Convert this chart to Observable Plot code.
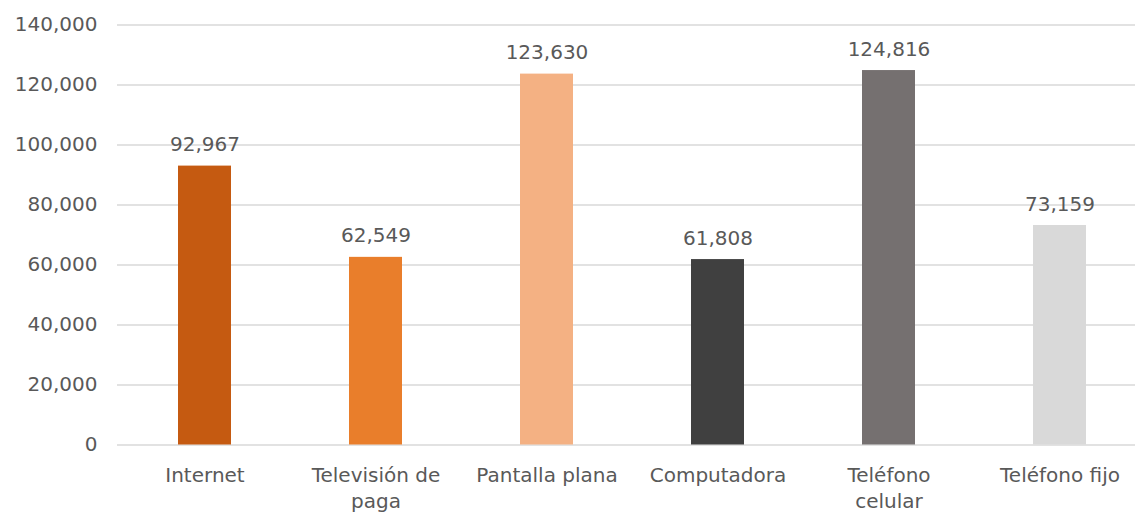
<!DOCTYPE html>
<html>
<head>
<meta charset="utf-8">
<script src="https://cdn.jsdelivr.net/npm/d3@7"></script>
<script src="https://cdn.jsdelivr.net/npm/@observablehq/plot@0.6"></script>
<style>
  html, body { margin: 0; padding: 0; background: #fff; }
  #chart svg { display: block; }
</style>
</head>
<body>
<div id="chart"></div>
<script>
const categories = ["Internet", "Televisión de paga", "Pantalla plana", "Computadora", "Teléfono celular", "Teléfono fijo"];
const tickLabels = ["Internet", "Televisión de\npaga", "Pantalla plana", "Computadora", "Teléfono\ncelular", "Teléfono fijo"];
const values = [92967, 62549, 123630, 61808, 124816, 73159];
const colors = ["#C55A11", "#E97E2B", "#F4B183", "#404040", "#757070", "#D9D9D9"];
const yTicks = [0, 20000, 40000, 60000, 80000, 100000, 120000, 140000];

const data = categories.map((c, i) => ({category: c, value: values[i], color: colors[i]}));
const labelOf = new Map(categories.map((c, i) => [c, tickLabels[i]]));
const fmt = d3.format(",");

const chart = Plot.plot({
  width: 1135,
  height: 512,
  marginLeft: 117,
  marginRight: 0,
  marginTop: 24.5,
  marginBottom: 67.5,
  style: {fontFamily: "DejaVu Sans", fontSize: "20px", color: "#595959", background: "#fff"},
  x: {domain: categories, range: [118, 1147], paddingInner: 0.69, paddingOuter: 0.345, label: null},
  y: {domain: [0, 140000], range: [444.5, 24.5], label: null},
  marks: [
    Plot.gridY(yTicks, {stroke: "#d9d9d9", strokeOpacity: 1, strokeWidth: 1.5}),
    Plot.barY(data, {x: "category", y: "value", fill: "color"}),
    Plot.text(data, {x: "category", y: "value", text: d => fmt(d.value), lineAnchor: "bottom", dy: -15, fill: "#595959", fontSize: 20}),
    Plot.axisY(yTicks, {tickSize: 0, tickPadding: 20, tickFormat: fmt, fill: "#595959", fontSize: 20}),
    Plot.axisX({tickSize: 0, tickPadding: 18, tickFormat: d => labelOf.get(d), lineHeight: 1.32, fill: "#595959", fontSize: 20})
  ]
});
document.getElementById("chart").appendChild(chart);
</script>
</body>
</html>
